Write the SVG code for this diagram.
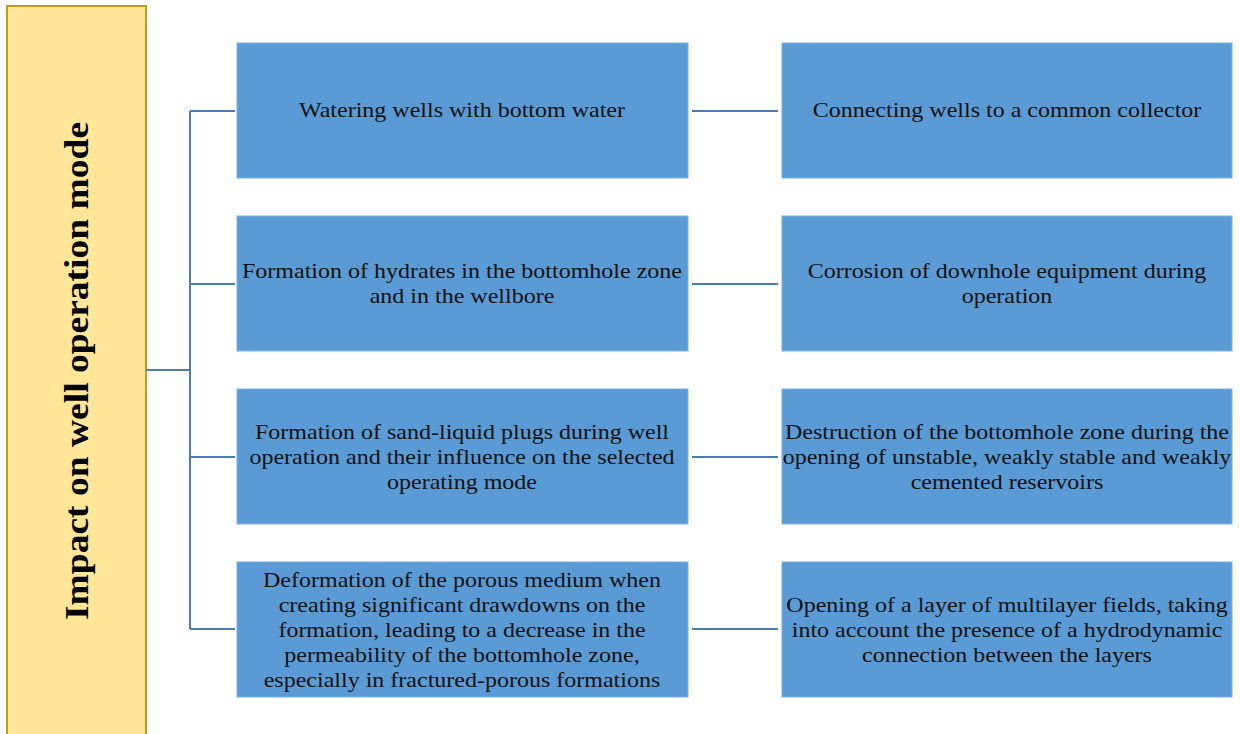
<svg xmlns="http://www.w3.org/2000/svg" width="1240" height="734" viewBox="0 0 1240 734">
<style>
.box{fill:#5B9BD5;stroke:#7FB0DE;stroke-width:1}
.t{font-family:"Liberation Serif",serif;font-size:21.5px;fill:#111;text-anchor:middle}
.c{stroke:#4A7DB5;stroke-width:2;fill:none}
</style>
<rect width="1240" height="734" fill="#fff"/>
<g id="root">
<rect x="7" y="6" width="139" height="740" fill="#FFE699" stroke="#C49A12" stroke-width="2"/>
<text transform="translate(88,371) rotate(-90) scale(1.137,1)" font-family="Liberation Serif,serif" font-weight="bold" font-size="33" text-anchor="middle" fill="#000">Impact on well operation mode</text>
</g>
<g id="connectors">
<path class="c" d="M146 370H190M190 111V629M190 111H235M190 284H235M190 457H235M190 629H235"/>
<path class="c" d="M692 111H778M692 284H778M692 457H778M692 629H778"/>
</g>
<g id="n1"><rect class="box" x="237" y="43" width="451" height="135"/><g transform="translate(462,0) scale(1.117,1)"><text class="t" y="117">Watering wells with bottom water</text></g></g>
<g id="n2"><rect class="box" x="237" y="216" width="451" height="135"/><g transform="translate(462,0) scale(1.117,1)"><text class="t" y="278">Formation of hydrates in the bottomhole zone</text><text class="t" y="303">and in the wellbore</text></g></g>
<g id="n3"><rect class="box" x="237" y="389" width="451" height="135"/><g transform="translate(462,0) scale(1.117,1)"><text class="t" y="439">Formation of sand-liquid plugs during well</text><text class="t" y="464">operation and their influence on the selected</text><text class="t" y="489">operating mode</text></g></g>
<g id="n4"><rect class="box" x="237" y="562" width="451" height="135"/><g transform="translate(462,0) scale(1.117,1)"><text class="t" y="587">Deformation of the porous medium when</text><text class="t" y="612">creating significant drawdowns on the</text><text class="t" y="637">formation, leading to a decrease in the</text><text class="t" y="662">permeability of the bottomhole zone,</text><text class="t" y="687">especially in fractured-porous formations</text></g></g>
<g id="n5"><rect class="box" x="782" y="43" width="450" height="135"/><g transform="translate(1007,0) scale(1.117,1)"><text class="t" y="117">Connecting wells to a common collector</text></g></g>
<g id="n6"><rect class="box" x="782" y="216" width="450" height="135"/><g transform="translate(1007,0) scale(1.117,1)"><text class="t" y="278">Corrosion of downhole equipment during</text><text class="t" y="303">operation</text></g></g>
<g id="n7"><rect class="box" x="782" y="389" width="450" height="135"/><g transform="translate(1007,0) scale(1.117,1)"><text class="t" y="439">Destruction of the bottomhole zone during the</text><text class="t" y="464">opening of unstable, weakly stable and weakly</text><text class="t" y="489">cemented reservoirs</text></g></g>
<g id="n8"><rect class="box" x="782" y="562" width="450" height="135"/><g transform="translate(1007,0) scale(1.117,1)"><text class="t" y="612">Opening of a layer of multilayer fields, taking</text><text class="t" y="637">into account the presence of a hydrodynamic</text><text class="t" y="662">connection between the layers</text></g></g>
</svg>
